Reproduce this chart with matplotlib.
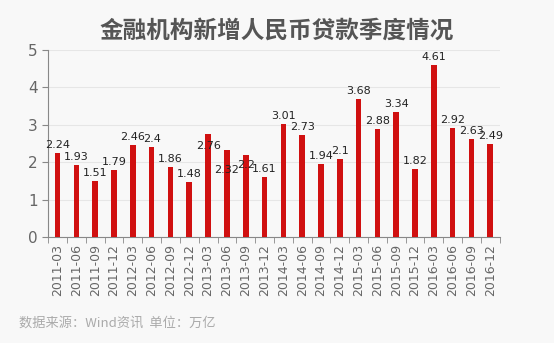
import matplotlib.pyplot as plt
import numpy as np

plt.rcParams['font.family'] = ['DejaVu Sans', 'Noto Sans CJK SC']

quarters = ['2011-03', '2011-06', '2011-09', '2011-12',
            '2012-03', '2012-06', '2012-09', '2012-12',
            '2013-03', '2013-06', '2013-09', '2013-12',
            '2014-03', '2014-06', '2014-09', '2014-12',
            '2015-03', '2015-06', '2015-09', '2015-12',
            '2016-03', '2016-06', '2016-09', '2016-12']
loans = [2.24, 1.93, 1.51, 1.79, 2.46, 2.4, 1.86, 1.48,
         2.76, 2.32, 2.2, 1.61, 3.01, 2.73, 1.94, 2.1,
         3.68, 2.88, 3.34, 1.82, 4.61, 2.92, 2.63, 2.49]

title = '金融机构新增人民币贷款季度情况'
note = '数据来源：Wind资讯  单位：万亿'

fig = plt.figure(figsize=(5.54, 3.43), dpi=100)
fig.patch.set_facecolor('#f8f8f8')
ax = fig.add_axes([0.087, 0.309, 0.815, 0.545])
ax.set_facecolor('#f8f8f8')

x = np.arange(len(quarters))
ax.bar(x, loans, width=0.3, color='#d01010', zorder=3)

# a few labels in the original sit below the bar top
shift = {8: -0.55, 9: -0.75, 10: -0.5}
for i, v in enumerate(loans):
    ax.text(i, v + 0.08 + shift.get(i, 0), f'{v:g}', ha='center', va='bottom',
            fontsize=8, color='#222222', zorder=4)

ax.set_xlim(-0.5, len(quarters) - 0.5)
ax.set_ylim(0, 5)
ax.set_yticks(range(6))
ax.set_xticks(x)
ax.set_xticklabels(quarters, rotation=90, fontsize=9, color='#666666')
ax.set_xticks(np.arange(-0.5, len(quarters)), minor=True)
ax.tick_params(axis='x', which='major', length=0, pad=5)
ax.tick_params(axis='x', which='minor', length=4, color='#888888')
ax.tick_params(axis='y', labelsize=11, colors='#666666', length=4)
ax.tick_params(axis='y', color='#888888')
ax.yaxis.grid(True, color='#e6e6e6', lw=0.8, zorder=0)

for s in ['top', 'right']:
    ax.spines[s].set_visible(False)
for s in ['left', 'bottom']:
    ax.spines[s].set_color('#888888')

fig.text(0.5, 0.91, title, ha='center', va='center', fontsize=17,
         fontweight='bold', color='#555555', family=['Noto Sans CJK SC'])
fig.text(0.035, 0.058, note, ha='left', va='center', fontsize=9.5,
         color='#aaaaaa', family=['Noto Sans CJK SC'])

fig.savefig('out.png', dpi=100, facecolor=fig.get_facecolor())
